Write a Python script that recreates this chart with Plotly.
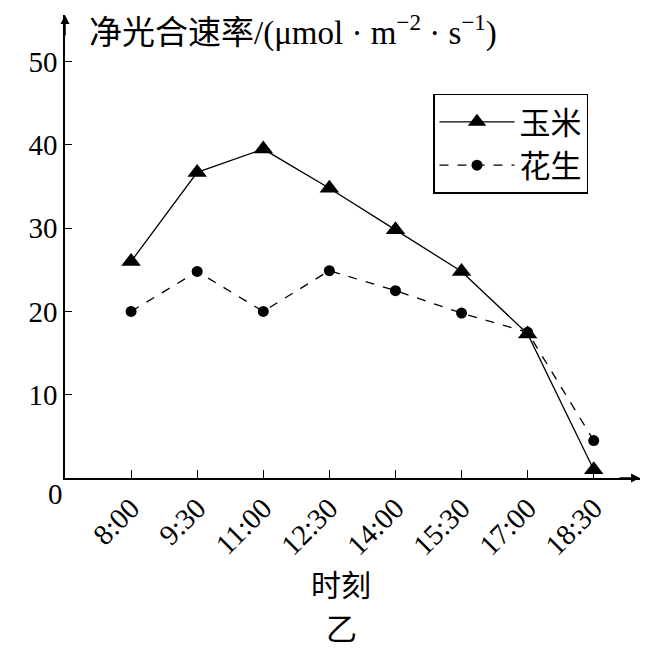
import plotly.graph_objects as go

times = ["8:00", "9:30", "11:00", "12:30", "14:00", "15:30", "17:00", "18:30"]
corn = [26, 36.7, 39.5, 34.8, 29.8, 24.8, 17.3, 1.0]
peanut = [20, 24.8, 20, 24.9, 22.5, 19.8, 17.5, 4.5]
yticks = [10, 20, 30, 40, 50]

xpos = list(range(1, len(times) + 1))
FONT = "Liberation Serif, Times New Roman, Noto Sans CJK SC"

fig = go.Figure()
fig.add_trace(go.Scatter(
    x=xpos, y=corn, name="玉米", mode="lines+markers",
    line=dict(color="black", width=1.3),
    marker=dict(symbol="triangle-up", size=17, color="black"),
))
fig.add_trace(go.Scatter(
    x=xpos, y=peanut, name="花生", mode="lines+markers",
    line=dict(color="black", width=1.3, dash="dash"),
    marker=dict(symbol="circle", size=11, color="black"),
))

XMAX = 8.7
YMAX = 55.6
fig.update_xaxes(
    range=[0, XMAX], tickmode="array", tickvals=xpos, ticktext=times,
    tickangle=-45, ticks="inside", ticklen=8, tickwidth=1.3, tickcolor="black",
    showline=True, linecolor="black", linewidth=1.5, showgrid=False, zeroline=False,
    tickfont=dict(family=FONT, size=29, color="black"),
)
fig.update_yaxes(
    range=[0, YMAX], tickmode="array", tickvals=yticks,
    ticks="inside", ticklen=7, tickwidth=1.3, tickcolor="black",
    showline=True, linecolor="black", linewidth=1.5, showgrid=False, zeroline=False,
    tickfont=dict(family=FONT, size=29, color="black"),
)

annotations = [
    # axis arrows
    dict(x=XMAX, y=0, xref="x", yref="y", ax=-22, ay=0, showarrow=True,
         arrowhead=2, arrowsize=1.2, arrowwidth=1.5, arrowcolor="black", text=""),
    dict(x=0, y=YMAX, xref="x", yref="y", ax=0, ay=22, showarrow=True,
         arrowhead=2, arrowsize=1.2, arrowwidth=1.5, arrowcolor="black", text=""),
    dict(x=0, y=0, xref="x", yref="y", text="0", showarrow=False,
         xanchor="right", yanchor="top", xshift=0, yshift=2,
         font=dict(family=FONT, size=29, color="black")),
    dict(x=0, y=YMAX, xref="x", yref="y",
         text="净光合速率/(μmol · m<sup>−2</sup> · s<sup>−1</sup>)",
         showarrow=False, xanchor="left", yanchor="middle", xshift=22, yshift=-15,
         font=dict(family=FONT, size=33, color="black")),
    dict(x=0.48, y=0, xref="paper", yref="paper", text="时刻", showarrow=False,
         xanchor="center", yanchor="middle", yshift=-107,
         font=dict(family=FONT, size=30, color="black")),
    dict(x=0.48, y=0, xref="paper", yref="paper", text="乙", showarrow=False,
         xanchor="center", yanchor="middle", yshift=-151,
         font=dict(family=FONT, size=31, color="black")),
]

fig.update_layout(
    width=659, height=642,
    margin=dict(l=57, r=27, t=7, b=172),
    paper_bgcolor="white", plot_bgcolor="white",
    showlegend=True,
    legend=dict(x=0.64, y=0.83, xanchor="left", yanchor="top",
                bordercolor="black", borderwidth=1.5, bgcolor="white",
                font=dict(family=FONT, size=31, color="black"),
                itemwidth=75, tracegroupgap=6),
    annotations=annotations,
)

fig.write_html("out.html")
